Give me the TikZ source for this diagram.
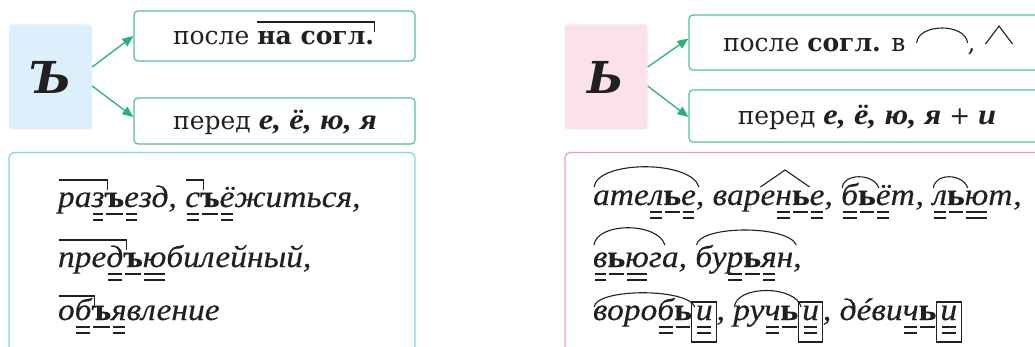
\documentclass[tikz,border=0pt]{standalone}
\usepackage{fontspec}
\setmainfont{DejaVu Serif}
\newfontfamily\cur[FakeStretch=1.08,FakeBold=0.4]{Liberation Serif}
\newfontfamily\curh[FakeStretch=1.12]{Liberation Serif}
\usetikzlibrary{arrows.meta,calc}
\definecolor{agreen}{RGB}{40,178,120}
\definecolor{bgreen}{RGB}{80,192,145}
\definecolor{lblue}{RGB}{220,240,251}
\definecolor{bblue}{RGB}{122,212,245}
\definecolor{lpink}{RGB}{250,225,235}
\definecolor{bpink}{RGB}{242,150,192}
\definecolor{ink}{RGB}{35,31,32}
\newcommand\wsp{\mbox{\ }}
\newcommand\hdfont{\fontsize{25}{29}\selectfont}
\newcommand\hbi[1]{{\curh\fontsize{29}{33}\selectfont\bfseries\itshape #1}}
\newcommand\exfont{\cur\fontsize{31}{35}\selectfont\itshape}
\newcommand\bx{\bfseries\upshape}
\tikzset{
  seg/.style={anchor=base west, inner sep=0pt, outer sep=0pt, text=ink, font=\exfont},
  hdseg/.style={anchor=base west, inner sep=0pt, outer sep=0pt, text=ink, font=\hdfont},
  mk/.style={draw=ink, line width=1.1pt},
  rulebox/.style={draw=bgreen, line width=1.2pt, rounded corners=4pt, inner sep=0pt},
  sqbox/.style={rounded corners=3pt, minimum width=83pt, minimum height=105pt, inner sep=0pt,
    text=ink, font=\fontsize{44}{44}\selectfont\bfseries\itshape},
  conn/.style={draw=agreen, line width=1.3pt, -{Triangle[length=11pt,width=9pt]}},
}
\newcommand\segA[3]{\node[seg] (#1) at (#2) {#3};\xdef\prevseg{#1}}
\newcommand\segB[2]{\node[seg] (#1) at (\prevseg.base east) {#2};\xdef\prevseg{#1}}
\newcommand\dbl[2][1.5]{%
  \draw[mk] ($(#2.base west)+(#1,7)$) -- ($(#2.base east)+(-#1,7)$);
  \draw[mk] ($(#2.base west)+(#1,13)$) -- ($(#2.base east)+(-#1,13)$);}
\newcommand\sgl[1]{\draw[mk] ($(#1.base west)+(1.5,7)$) -- ($(#1.base east)+(-1.5,7)$);}
\newcommand\pref[3]{\draw[mk] ($(#1.base west)+(1,-#3)$) -- ($(#2.base east)+(3,-#3)$) -- ++(0,10);}
\newcommand\rootarc[5]{\draw[mk] ($(#1.base west)+(1,-#3)$) .. controls ($(#1.base west)+(#5,-#4)$) and ($(#2.base east)+(-#5,-#4)$) .. ($(#2.base east)+(3,-#3)$);}
\newcommand\suff[2]{\draw[mk] ($(#1.base west)+(0,-18)$) -- ($(#1.base west)!0.5!(#2.base east)+(0,-35)$) -- ($(#2.base east)+(0,-18)$);}
\newcommand\ebox[1]{\draw[mk] ($(#1.base west)+(0,-18)$) rectangle ($(#1.base east)+(0,22)$);}
\begin{document}
\begin{tikzpicture}[x=1pt,y=-1pt]
\useasboundingbox (0,0) rectangle (1035,347);
\clip (0,0) rectangle (1035,347);
% ---------- left part ----------
\node[sqbox, fill=lblue] (sqL) at (50.5,77) {Ъ};
\node[rulebox, minimum width=281pt, minimum height=50pt] (tL) at (274.5,36) {};
\node[rulebox, minimum width=281pt, minimum height=46pt] (bL) at (274.5,121) {};
\draw[conn] ([yshift=10pt]sqL.east) -- (tL.west);
\draw[conn] ([yshift=-9pt]sqL.east) -- ([yshift=4pt]bL.west);
\node[hdseg] (h1a) at (173,45) {после\wsp};
\node[hdseg] (h1b) at (h1a.base east) {\bfseries на согл.};
\draw[mk] ($(h1b.base west)+(0,-23)$) -- ($(h1b.base east)+(0,-23)$) -- ++(0,10);
\node[hdseg, anchor=base] (h2) at (275,130) {перед \hbi{е, ё, ю, я}};
\node[draw=bblue, line width=1.2pt, rounded corners=5pt, minimum width=406pt, minimum height=228pt, inner sep=0pt] (exL) at (212,266.5) {};
% line 1
\segA{a1}{58,207}{ра}\segB{a2}{з}\segB{a3}{\bx ъ}\segB{a4}{е}\segB{a5}{зд,\wsp}
\segB{a6}{с}\segB{a7}{\bx ъ}\segB{a8}{ё}\segB{a9}{житься,}
\pref{a1}{a2}{27}\dbl{a2}\sgl{a3}\dbl{a4}
\pref{a6}{a6}{27}\dbl{a6}\sgl{a7}\dbl{a8}
% line 2
\segA{b1}{58,267}{пре}\segB{b2}{д}\segB{b3}{\bx ъ}\segB{b4}{ю}\segB{b5}{билейный,}
\pref{b1}{b2}{27}\dbl{b2}\sgl{b3}\dbl{b4}
% line 3
\segA{c1}{58,320}{о}\segB{c2}{б}\segB{c3}{\bx ъ}\segB{c4}{я}\segB{c5}{вление}
\pref{c1}{c2}{24}\dbl{c2}\sgl{c3}\dbl{c4}
% ---------- right part ----------
\node[sqbox, fill=lpink] (sqR) at (606,77) {Ь};
\node[rulebox, minimum width=371pt, minimum height=55pt] (tR) at (874.5,42.5) {};
\node[rulebox, minimum width=371pt, minimum height=52pt] (bR) at (874.5,116) {};
\draw[conn] ([yshift=10pt]sqR.east) -- ([yshift=4pt]tR.west);
\draw[conn] ([yshift=-9pt]sqR.east) -- ([yshift=-1pt]bR.west);
\node[hdseg] (h3a) at (723,52) {после \textbf{согл.} в};
\draw[mk] ($(h3a.base east)+(11,-9)$) .. controls ($(h3a.base east)+(13,-29)$) and ($(h3a.base east)+(60,-29)$) .. ($(h3a.base east)+(62,-9)$);
\node[hdseg] (h3b) at ($(h3a.base east)+(62,0)$) {,};
\draw[mk] ($(h3b.base east)+(10,-8)$) -- ($(h3b.base east)+(23.5,-26)$) -- ($(h3b.base east)+(37,-8)$);
\node[hdseg, anchor=base] (h4) at (867,125) {перед \hbi{е, ё, ю, я} + \hbi{и}};
\node[draw=bpink, line width=1.2pt, rounded corners=5pt, minimum width=495pt, minimum height=228pt, inner sep=0pt] (exR) at (812.5,266.5) {};
% line 1
\segA{d1}{593,205}{ате}\segB{d2}{л}\segB{d3}{\bx ь}\segB{d4}{е}\segB{d5}{,\wsp}
\segB{d6}{вар}\segB{d7}{е}\segB{d8}{н}\segB{d9}{\bx ь}\segB{d10}{е}\segB{d11}{,\wsp}
\segB{d12}{б}\segB{d13}{\bx ь}\segB{d14}{ё}\segB{d15}{т,\wsp}
\segB{d16}{л}\segB{d17}{\bx ь}\segB{d18}{ю}\segB{d19}{т,}
\rootarc{d1}{d4}{18}{45}{5}\dbl{d2}\sgl{d3}\dbl{d4}
\suff{d7}{d9}\dbl{d8}\sgl{d9}\dbl{d10}
\rootarc{d12}{d13}{17}{32}{2}\dbl{d12}\sgl{d13}\dbl{d14}
\rootarc{d16}{d17}{17}{32}{2}\dbl{d16}\sgl{d17}\dbl{d18}
% line 2
\segA{e1}{593,267}{в}\segB{e2}{\bx ь}\segB{e3}{ю}\segB{e4}{г}\segB{e5}{а,\wsp}
\segB{e6}{бу}\segB{e7}{р}\segB{e8}{\bx ь}\segB{e9}{я}\segB{e10}{н}\segB{e11}{,}
\rootarc{e1}{e4}{22}{45}{4}\dbl{e1}\sgl{e2}\dbl{e3}
\rootarc{e6}{e10}{22}{42}{5}\dbl{e7}\sgl{e8}\dbl{e9}
% line 3
\segA{f1}{593,320}{воро}\segB{f2}{б}\segB{f3}{\bx ь}\segB{f4}{\kern4pt и\kern4pt}\segB{f5}{,\wsp}
\segB{f6}{ру}\segB{f7}{ч}\segB{f8}{\bx ь}\segB{f9}{\kern4pt и\kern4pt}\segB{f10}{,\wsp}
\segB{f11}{дéви}\segB{f12}{ч}\segB{f13}{\bx ь}\segB{f14}{\kern4pt и\kern4pt}
\rootarc{f1}{f3}{13}{32}{4}\dbl{f2}\sgl{f3}\ebox{f4}\dbl[5.5]{f4}
\rootarc{f6}{f8}{13}{35}{3}\dbl{f7}\sgl{f8}\ebox{f9}\dbl[5.5]{f9}
\dbl{f12}\sgl{f13}\ebox{f14}\dbl[5.5]{f14}
\end{tikzpicture}
\end{document}
